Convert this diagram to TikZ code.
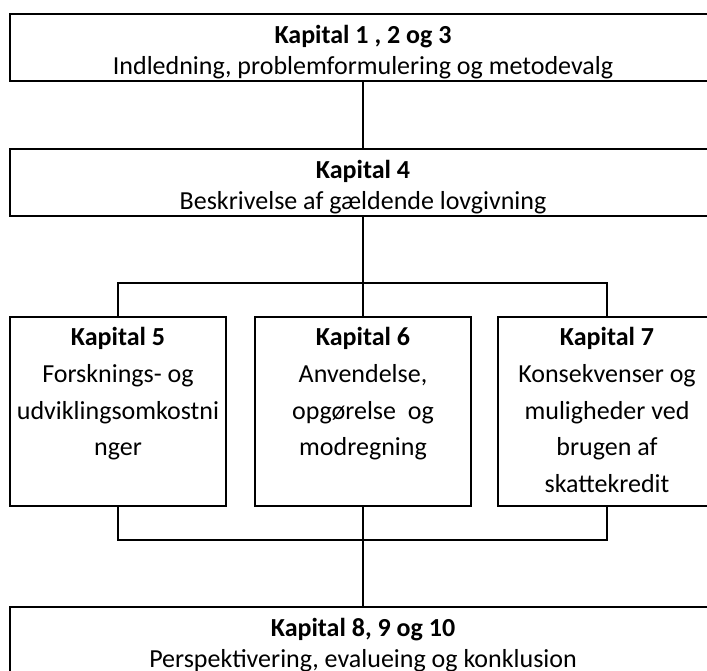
\documentclass[tikz,border=0pt]{standalone}
\usepackage{fontspec}
\setmainfont{Carlito}
\begin{document}
\begin{tikzpicture}[x=0.75pt,y=-0.75pt,
  box/.style={draw,line width=1.65pt,rectangle,inner sep=0pt},
  wide/.style={box,minimum width=529.5pt,minimum height=50.25pt},
  col/.style={box,minimum height=141.75pt},
  wtxt/.style={align=center,inner sep=0pt,yshift=-3.6pt,
    font=\fontsize{19.5}{23.4}\selectfont},
  txt/.style={align=center,inner sep=0pt,anchor=north,
    font=\fontsize{19.5}{27.6}\selectfont},
  conn/.style={line width=1.05pt}]
\useasboundingbox (0,0) rectangle (707,671);
\clip (0,0) rectangle (707,671);
\node[wide] (b1) at (363,47.5) {};
\node[wide] (b2) at (363,182.5) {};
\node[col,minimum width=162pt] (b5) at (118,411.5) {};
\node[col,minimum width=162pt] (b6) at (363,411.5) {};
\node[col,minimum width=163.5pt] (b7) at (607,411.5) {};
\node[wide] (b8) at (363,640.5) {};
\node[wtxt] (t1) at (b1.center) {\textbf{Kapital 1 , 2 og 3}\\Indledning, problemformulering og metodevalg};
\node[wtxt] (t2) at (b2.center) {\textbf{Kapital 4}\\Beskrivelse af gældende lovgivning};
\node[wtxt] (t8) at (b8.center) {\textbf{Kapital 8, 9 og 10}\\Perspektivering, evalueing og konklusion};
\node[txt] (t5) at (118,327) {\textbf{Kapital 5}\\Forsknings- og\\udviklingsomkostni\\nger};
\node[txt] (t6) at (363,327) {\textbf{Kapital 6}\\Anvendelse,\\opgørelse\ \ og\\modregning};
\node[txt] (t7) at (607,327) {\textbf{Kapital 7}\\Konsekvenser og\\muligheder ved\\brugen af\\skattekredit};
\coordinate (j1) at (363,283);
\coordinate (j2) at (363,540);
\draw[conn] (b1.south) -- (b2.north);
\draw[conn] (b2.south) -- (j1) -- (b6.north);
\draw[conn] (b5.north) |- (j1) -| (b7.north);
\draw[conn] (b6.south) -- (j2) -- (b8.north);
\draw[conn] (b5.south) |- (j2) -| (b7.south);
\end{tikzpicture}
\end{document}
